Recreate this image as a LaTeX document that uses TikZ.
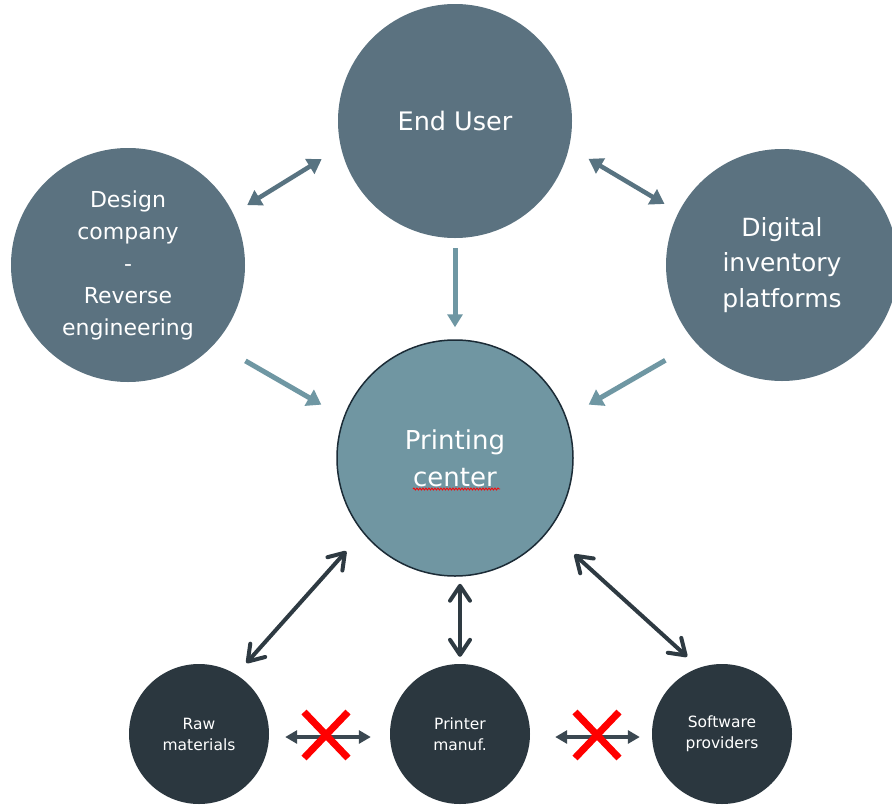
\documentclass[tikz,border=0pt]{standalone}
\usepackage{fontspec}
\setmainfont{DejaVu Sans}
\usetikzlibrary{arrows.meta,calc,decorations.pathmorphing}

\definecolor{slate}{HTML}{5B7280}
\definecolor{slatearrow}{HTML}{587381}
\definecolor{hubfill}{HTML}{7096A2}
\definecolor{hubedge}{HTML}{1B2B36}
\definecolor{lightarrow}{HTML}{6F97A3}
\definecolor{supplier}{HTML}{2B373F}
\definecolor{darkarrow}{HTML}{2E3A42}
\definecolor{linkarrow}{HTML}{3B4851}
\definecolor{stopred}{HTML}{FF0000}

\tikzset{
  actor/.style={circle, fill=slate, text=white, inner sep=0pt, align=center, minimum size=#1},
  hub/.style={circle, fill=hubfill, draw=hubedge, line width=1.5pt, text=white, inner sep=0pt, align=center, minimum size=236pt},
  supply/.style={circle, fill=supplier, text=white, inner sep=0pt, align=center, minimum size=140pt,
    font=\fontsize{15.5}{21}\selectfont},
  peerlink/.style={draw=slatearrow, line width=4.5pt,
    {Triangle[length=14pt,width=17pt]}-{Triangle[length=14pt,width=17pt]}},
  feed/.style={draw=lightarrow, line width=5pt, -{Triangle[length=14pt,width=18pt]}},
  downfeed/.style={draw=lightarrow, line width=5pt, -{Triangle[length=13pt,width=15pt]}},
  supplylink/.style={draw=darkarrow, line width=4pt, line cap=round, line join=round,
    {Straight Barb[length=15pt,width=20pt,line cap=round,line join=round]}-{Straight Barb[length=15pt,width=20pt,line cap=round,line join=round]}},
  sidelink/.style={draw=linkarrow, line width=3.5pt,
    {Triangle[length=12pt,width=13pt]}-{Triangle[length=12pt,width=13pt]}},
  blocked/.style={draw=stopred, line width=7pt},
  typo/.style={draw=stopred, line width=0.8pt, decorate,
    decoration={snake, amplitude=1pt, segment length=3pt}}
}

\begin{document}
\begin{tikzpicture}[x=1pt,y=-1pt]
\clip (0,0) rectangle (892,806);
\fill[white] (0,0) rectangle (892,806);

% upper ring
\node[actor=234pt, font=\fontsize{25.5}{31}\selectfont] (enduser) at (455,121) {End User};
\node[actor=234pt, font=\fontsize{22}{32}\selectfont] (design) at (128,265)
  {Design\\company\\-\\Reverse\\engineering};
\node[actor=232pt, font=\fontsize{25}{35.5}\selectfont] (digital) at (782,265)
  {Digital\\inventory\\platforms};

% central hub
\node[hub, font=\fontsize{26}{37}\selectfont] (printing) at (455,458) {Printing\\center};
\draw[typo] ($(printing.center)+(-42,31)$) -- ($(printing.center)+(45,31)$);

% suppliers
\node[supply] (raw) at (199,734) {Raw\\materials};
\node[supply] (printer) at (460,734) {Printer\\manuf.};
\node[supply] (software) at (722,734) {Software\\providers};

% links between the upper actors
\draw[peerlink, shorten <=16.3pt, shorten >=22.5pt] (design.26.2) -- (enduser.193.5);
\draw[peerlink, shorten <=22.5pt, shorten >=16.3pt] (enduser.-13.5) -- (digital.153.8);

% flows into the printing center
\draw[downfeed, shorten <=10pt, shorten >=12pt] (enduser.south) -- (printing.north);
\draw[feed, shorten <=35pt, shorten >=25.5pt] (design.-42.2) -- (printing.160);
\draw[feed, shorten <=35pt, shorten >=25.5pt] (digital.222.2) -- (printing.20);

% printing center and its suppliers
\draw[supplylink, shorten <=24.75pt, shorten >=15.35pt] (printing.219.2) -- (raw.58.4);
\draw[supplylink, shorten <=7pt, shorten >=7pt] (printer.north |- printing.south) -- (printer.north);
\draw[supplylink, shorten <=34.8pt, shorten >=16.25pt] (printing.-38.7) -- (software.109.1);

% no direct exchange between suppliers
\draw[sidelink, shorten <=16pt, shorten >=19pt] ([yshift=-3pt]raw.east) -- ([yshift=-3pt]printer.west);
\draw[sidelink, shorten <=25pt, shorten >=12pt] ([yshift=-3pt]printer.east) -- ([yshift=-3pt]software.west);

\coordinate (stopA) at (326,735);
\coordinate (stopB) at (597,735);
\foreach \c in {stopA,stopB}{
  \draw[blocked] ($(\c)+(-22,-23)$) -- ($(\c)+(22,23)$);
  \draw[blocked] ($(\c)+(22,-23)$) -- ($(\c)+(-22,23)$);
}
\end{tikzpicture}
\end{document}
